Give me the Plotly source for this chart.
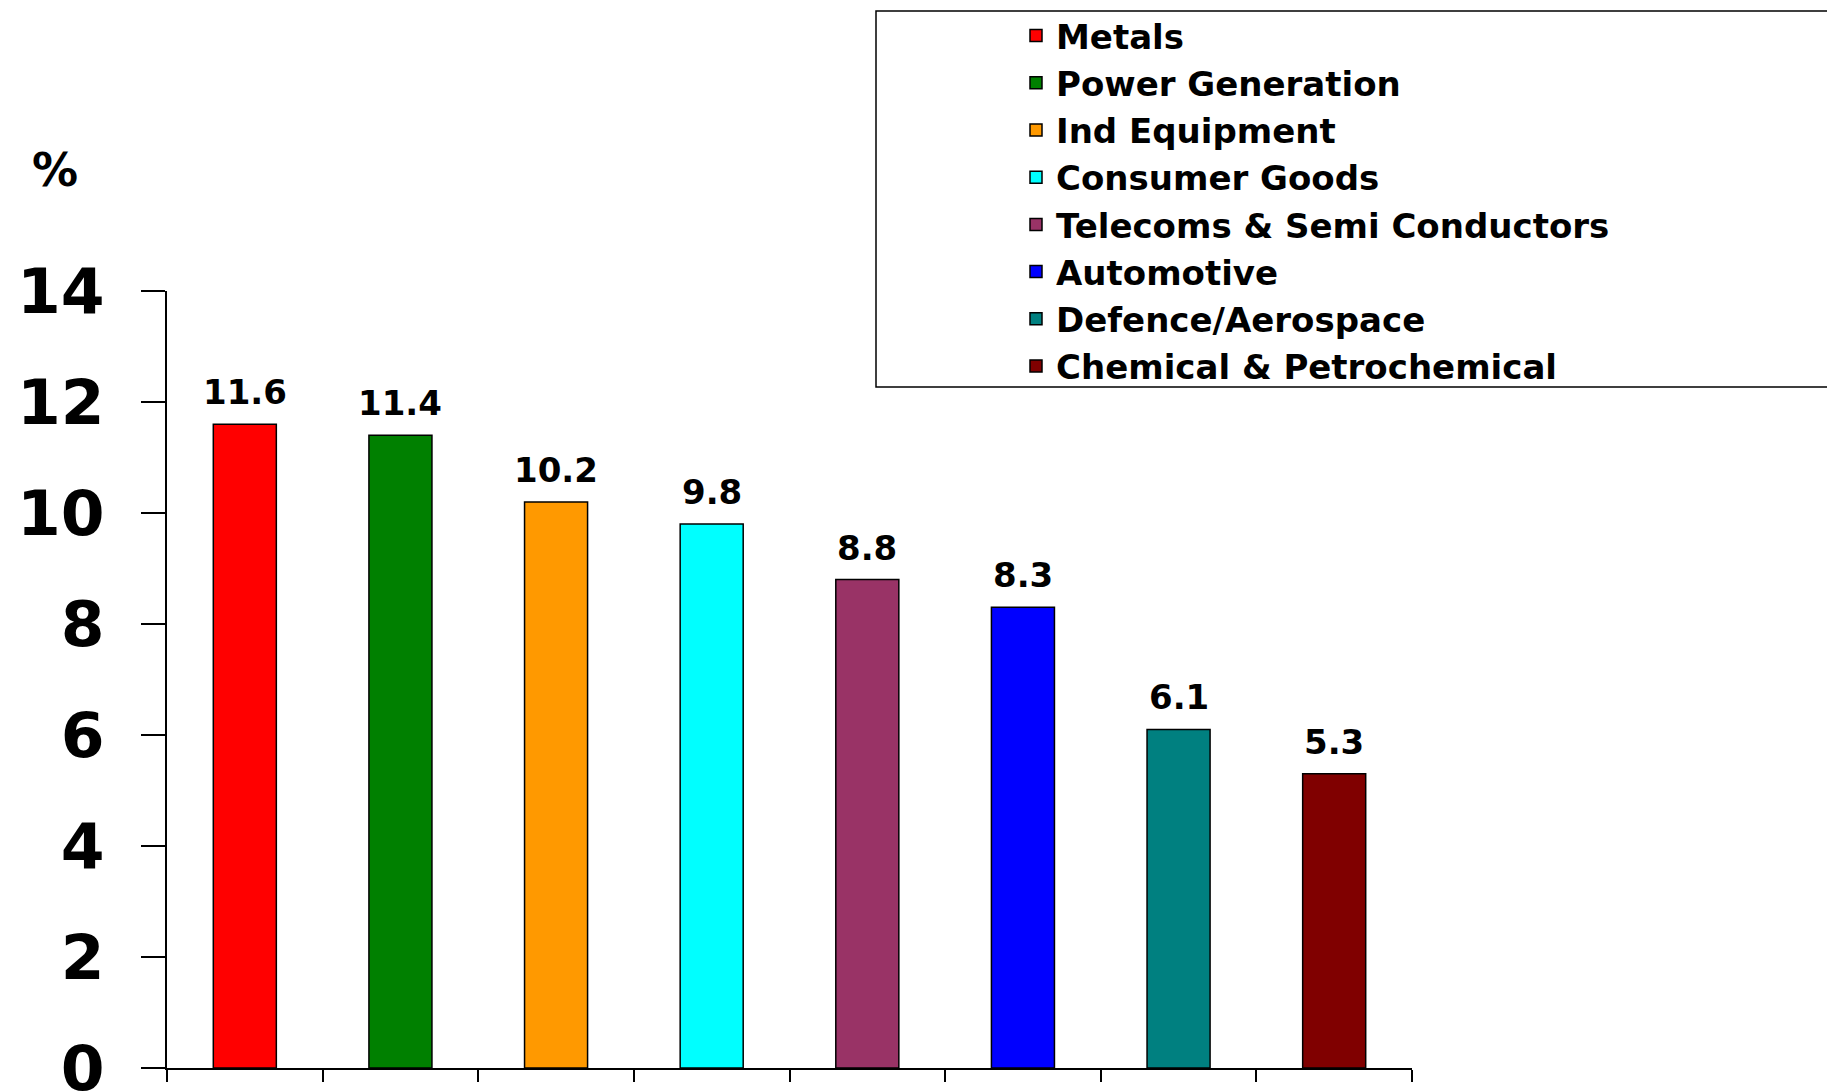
import plotly.graph_objects as go

# Sector growth figures (%)
sectors = [
    "Metals",
    "Power Generation",
    "Ind Equipment",
    "Consumer Goods",
    "Telecoms & Semi Conductors",
    "Automotive",
    "Defence/Aerospace",
    "Chemical & Petrochemical",
]
values = [11.6, 11.4, 10.2, 9.8, 8.8, 8.3, 6.1, 5.3]
colors = ["#FF0000", "#008000", "#FF9900", "#00FFFF",
          "#993366", "#0000FF", "#008080", "#800000"]
y_ticks = [0, 2, 4, 6, 8, 10, 12, 14]

W, H = 1827, 1092
M_L, M_R, M_T, M_B = 167, 415, 291, 24
FONT = "DejaVu Sans"

fig = go.Figure()
for name, val, col in zip(sectors, values, colors):
    fig.add_trace(go.Bar(
        x=[name], y=[val], name=name, width=0.405,
        marker=dict(color=col, line=dict(color="black", width=1.5)),
        hoverinfo="skip",
    ))

# value labels above each bar
for name, val in zip(sectors, values):
    fig.add_annotation(
        x=name, y=val, xref="x", yref="y", text=f"{val:.1f}",
        showarrow=False, yanchor="middle", yshift=32,
        font=dict(family=FONT, size=34, color="black", weight="bold"),
    )

plot_w = W - M_L - M_R
plot_h = H - M_T - M_B

def px_x(px):
    return (px - M_L) / plot_w

def px_y(py):
    return (H - M_B - py) / plot_h

# unit label
fig.add_annotation(
    x=px_x(55), y=px_y(170), xref="paper", yref="paper", text="%",
    showarrow=False, xanchor="center", yanchor="middle",
    font=dict(family=FONT, size=46, color="black", weight="bold"),
)

# legend frame
fig.add_shape(
    type="rect", xref="paper", yref="paper",
    x0=px_x(876), x1=px_x(1900), y0=px_y(387), y1=px_y(11),
    line=dict(color="black", width=1.5), fillcolor="rgba(0,0,0,0)",
)

fig.update_layout(
    width=W, height=H,
    margin=dict(l=M_L, r=M_R, t=M_T, b=M_B, autoexpand=False),
    paper_bgcolor="white", plot_bgcolor="white",
    barmode="overlay",
    showlegend=True,
    legend=dict(
        xref="container", yref="container",
        x=1016 / W, y=1 - 7 / H, xanchor="left", yanchor="top",
        bgcolor="rgba(0,0,0,0)", borderwidth=0,
        font=dict(family=FONT, size=34, color="black", weight="bold"),
        traceorder="normal", itemwidth=30,
    ),
    xaxis=dict(
        type="category", categoryorder="array", categoryarray=sectors,
        range=[-0.5, len(sectors) - 0.5],
        showticklabels=False, tickson="boundaries",
        ticks="outside", ticklen=12, tickwidth=1.5, tickcolor="black",
        showline=True, linecolor="black", linewidth=1.5,
        showgrid=False, zeroline=False, fixedrange=True,
    ),
    yaxis=dict(
        range=[0, 14], tickvals=y_ticks, ticktext=[str(t) for t in y_ticks],
        ticks="outside", ticklen=24, tickwidth=1.5, tickcolor="black",
        ticklabelstandoff=24, ticklabeloverflow="allow",
        showline=True, linecolor="black", linewidth=1.5,
        showgrid=False, zeroline=False, fixedrange=True,
        tickfont=dict(family=FONT, size=63, color="black", weight="bold"),
    ),
)

fig.write_html("out.html")
